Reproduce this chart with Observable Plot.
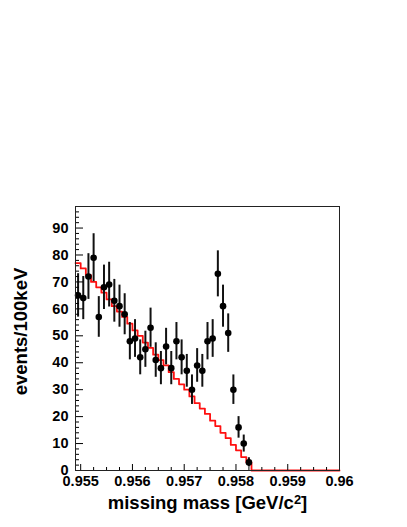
<!DOCTYPE html>
<html><head><meta charset="utf-8">
<script src="https://cdn.jsdelivr.net/npm/d3@7"></script>
<script src="https://cdn.jsdelivr.net/npm/@observablehq/plot@0.6"></script>
<style>
html,body{margin:0;padding:0;background:#fff;}
svg{font-family:"Liberation Sans",Arial,sans-serif;}
</style>
</head><body><div id="chart"></div>
<script>
// histogram binning (100 keV bins)
const binStart = 0.9549;
const binWidth = 0.0001;
// measured events per bin (data points)
const dataCounts = [65,64,72,79,57,68,69,63,61,58,48,49,42,45,53,41,38,46,38,48,42,37,30,39,37,48,49,73,61,51,30,16,10,3];
// background (red histogram) per bin
const bgCounts = [77,75,72.5,70,68,66,63.5,61,59,57,54.5,52,50,47.5,45.5,43,41,39,36.5,34,32,30,27.5,25,23,21,18.5,16.5,14,12,9.5,7.5,5,3,
  0,0,0,0,0,0,0,0,0,0,0,0,0,0,0,0,0];
const xTicks = [0.955,0.956,0.957,0.958,0.959,0.96];
const xMinorTicks = [0.95525,0.9555,0.95575,0.95625,0.9565,0.95675,0.95725,0.9575,0.95775,0.95825,0.9585,0.95875,0.95925,0.9595,0.95975];
const yTicks = [0,10,20,30,40,50,60,70,80,90];
const yMinorTicks = [2,4,6,8,12,14,16,18,22,24,26,28,32,34,36,38,42,44,46,48,52,54,56,58,62,64,66,68,72,74,76,78,82,84,86,88,92,94,96];
const xLabelMain = "missing mass [GeV/c";
const xLabelSup = "2";
const xLabelEnd = "]";
const yLabel = "events/100keV";

const points = dataCounts.map((n, i) => ({x: binStart + (i + 0.5) * binWidth, y: n, lo: n - Math.sqrt(n), hi: n + Math.sqrt(n)}));
const steps = bgCounts.map((v, i) => ({x: binStart + i * binWidth, y: v}));
steps.push({x: binStart + bgCounts.length * binWidth, y: bgCounts[bgCounts.length - 1]});

const W = 407, H = 527, mL = 75, mR = 68, mT = 206, mB = 57;
const fw = W - mL - mR, fh = H - mT - mB;

const chart = Plot.plot({
  width: W, height: H,
  marginLeft: mL, marginRight: mR, marginTop: mT, marginBottom: mB,
  x: {domain: [0.9549, 0.96]},
  y: {domain: [0, 98]},
  style: {fontFamily: '"Liberation Sans",Arial,sans-serif', background: "#fff"},
  marks: [
    Plot.line(steps, {x: "x", y: "y", curve: "step-after", stroke: "#ff1010", strokeWidth: 1.8}),
    Plot.ruleX(points, {x: "x", y1: "lo", y2: "hi", stroke: "#111", strokeWidth: 2}),
    Plot.dot(points, {x: "x", y: "y", r: 3.3, fill: "#000", stroke: "none"}),
    Plot.tickX(xTicks, {x: d => d, insetTop: fh - 6, stroke: "#000"}),
    Plot.tickX(xMinorTicks, {x: d => d, insetTop: fh - 3, stroke: "#000"}),
    Plot.tickY(yTicks, {y: d => d, insetRight: fw - 8, stroke: "#000"}),
    Plot.tickY(yMinorTicks, {y: d => d, insetRight: fw - 4, stroke: "#000"}),
    Plot.axisX({ticks: xTicks, tickSize: 0, tickPadding: 5, tickFormat: d => String(+d.toFixed(3)), fontSize: 14.5, fontWeight: "bold", label: null, fill: "#000"}),
    Plot.axisY({ticks: yTicks, tickSize: 0, tickPadding: 7, tickFormat: d => String(d), fontSize: 14.5, fontWeight: "bold", label: null, fill: "#000"}),
    Plot.frame({stroke: "#222", strokeWidth: 1}),
    Plot.text([xLabelMain], {frameAnchor: "bottom", dy: 33, text: d => d, fontSize: 18.5, fontWeight: "bold", fill: "#000", lineAnchor: "middle", textAnchor: "middle", className: "xlab"}),
    Plot.text([yLabel], {frameAnchor: "left", dx: -54, dy: -7, rotate: -90, text: d => d, fontSize: 18.5, fontWeight: "bold", fill: "#000", lineAnchor: "middle", textAnchor: "middle"})
  ]
});
// add the superscript 2 and closing bracket to the x-axis title as real text
const xt = d3.select(chart).select("g.xlab text");
xt.text(null);
xt.append("tspan").text(xLabelMain);
xt.append("tspan").attr("dy", "-0.45em").attr("font-size", "0.7em").text(xLabelSup);
xt.append("tspan").attr("dy", "0.315em").text(xLabelEnd);
document.getElementById("chart").appendChild(chart);
</script>
</body></html>
